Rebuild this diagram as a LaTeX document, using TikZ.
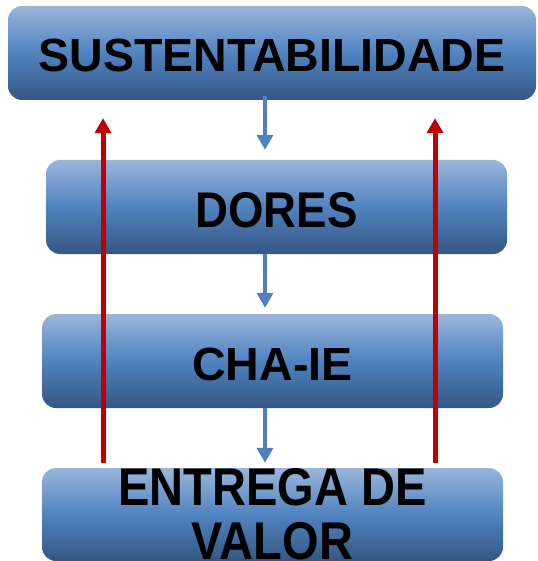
\documentclass[tikz,border=0pt]{standalone}
\usepackage{fontspec}
\usepackage{graphicx}
\setmainfont{Liberation Sans}
\usetikzlibrary{arrows.meta}
\definecolor{boxtop}{HTML}{9AB6DA}
\definecolor{boxmid}{HTML}{5083C0}
\definecolor{boxbot}{HTML}{345783}
\definecolor{arrowblue}{HTML}{4F81BD}
\definecolor{arrowred}{HTML}{C00000}
\tikzset{
  bluebox/.style={rectangle, rounded corners=14pt, top color=boxtop, bottom color=boxbot, middle color=boxmid,
    inner sep=0pt, align=center, font=\bfseries\fontsize{46.5}{54}\selectfont, text=black},
  bluearrow/.style={draw=arrowblue, line width=4.5pt, -{Triangle[width=16pt,length=15pt]}},
  redarrow/.style={draw=arrowred, line width=5pt, -{Triangle[width=16pt,length=15pt]}}
}
\begin{document}
\begin{tikzpicture}[x=1pt,y=-1pt]
\useasboundingbox (0,0) rectangle (537,561);
\node[bluebox, minimum width=528pt, minimum height=94pt, text height=37.4pt, text depth=0pt] (b1) at (272,53) {SUSTENTABILIDADE};
\node[bluebox, minimum width=461pt, minimum height=94pt, text height=41.4pt, text depth=0pt,
  font=\bfseries\fontsize{45.6}{54}\selectfont] (b2) at (276.5,207) {\scalebox{1}[1.1]{DORES}};
\node[bluebox, minimum width=461pt, minimum height=94pt, text height=39.4pt, text depth=0pt] (b3) at (272.5,361) {CHA-IE};
\node[bluebox, minimum width=461pt, minimum height=93pt,
  font=\bfseries\fontsize{47}{54}\selectfont] (b4) at (272.5,514.5) {\scalebox{1}[1.13]{ENTREGA DE}\\\scalebox{1}[1.13]{VALOR}};
\coordinate (bl) at (265,0);
\coordinate (rl) at (103,0);
\coordinate (rr) at (435,0);
\draw[bluearrow, shorten <=-4pt, shorten >=10pt] (b1.south -| bl) -- (b2.north -| bl);
\draw[bluearrow, shorten >=6pt] (b2.south -| bl) -- (b3.north -| bl);
\draw[bluearrow, shorten >=5pt] (b3.south -| bl) -- (b4.north -| bl);
\draw[redarrow, shorten <=5pt, shorten >=18pt] (b4.north -| rl) -- (b1.south -| rl);
\draw[redarrow, shorten <=5pt, shorten >=18pt] (b4.north -| rr) -- (b1.south -| rr);
\end{tikzpicture}
\end{document}
